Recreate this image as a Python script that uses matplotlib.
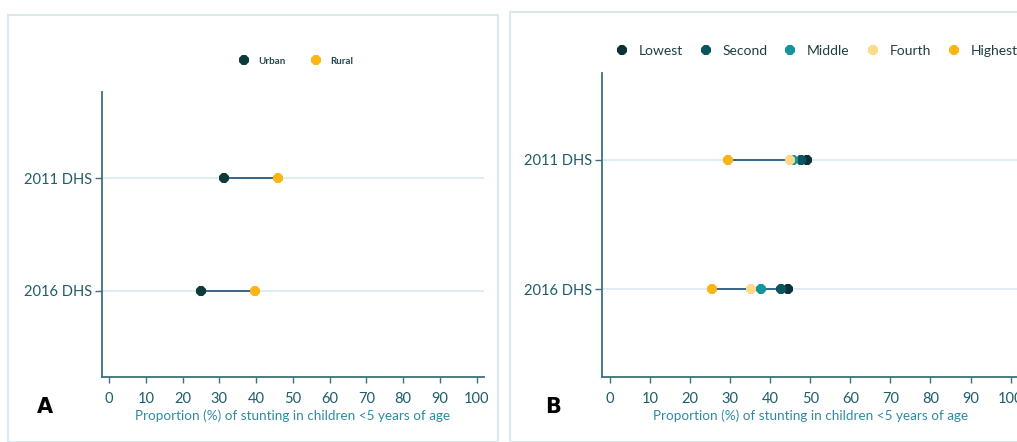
import matplotlib
matplotlib.use("Agg")
import matplotlib.pyplot as plt
from matplotlib.patches import Rectangle

#---data---#
surveys = ["2011 DHS", "2016 DHS"]

# panel A: residence
urban = [31.4, 25.1]
rural = [45.9, 39.7]

# panel B: wealth quintile
lowest = [49.2, 44.4]
second = [47.8, 42.7]
middle = [45.6, 37.8]
fourth = [44.9, 35.3]
highest = [29.5, 25.4]

xticks = list(range(0, 101, 10))
xlabel = "Proportion (%) of stunting in children <5 years of age"

#---style---#
plt.rcParams['font.family'] = ['Lato', 'DejaVu Sans']
c_spine = "#3f6f7a"
c_tick = "#1d5c68"
c_xlab = "#2f8aa3"
c_grid = "#d9eaf0"
c_link = "#2a5b80"
c_box = "#dbe9ee"

W, H = 1017, 442
fig = plt.figure(figsize=(W / 100, H / 100), dpi=100)

# panel frames
fig.patches.append(Rectangle((8 / W, 0), 490 / W, 1 - 15 / H, transform=fig.transFigure,
                             fill=False, edgecolor=c_box, linewidth=1.5))
fig.patches.append(Rectangle((510 / W, 0), 520 / W, 1 - 12 / H, transform=fig.transFigure,
                             fill=False, edgecolor=c_box, linewidth=1.5))


def style_axes(ax, ylim):
    ax.set_xlim(-2, 102)
    ax.set_ylim(*ylim)
    ax.set_yticks(range(len(surveys)))
    ax.set_yticklabels(surveys)
    ax.set_xticks(xticks)
    ax.spines['top'].set_visible(False)
    ax.spines['right'].set_visible(False)
    for s in ['left', 'bottom']:
        ax.spines[s].set_color(c_spine)
        ax.spines[s].set_linewidth(1.3)
    ax.tick_params(axis='y', length=5, width=1, color=c_spine, labelcolor=c_tick, labelsize=10.5, pad=2)
    ax.tick_params(axis='x', length=4, width=1, color=c_spine, labelcolor=c_tick, labelsize=10.5, pad=7)
    ax.set_xlabel(xlabel, color=c_xlab, fontsize=9.7, labelpad=2)
    for i in range(len(surveys)):
        ax.axhline(i, color=c_grid, linewidth=1.2, zorder=0)


def dumbbell(ax, series):
    for i in range(len(surveys)):
        vals = [s[1][i] for s in series]
        ax.plot([min(vals), max(vals)], [i, i], color=c_link, linewidth=1.3, zorder=1)
    for name, vals, col in series:
        ax.plot(vals, range(len(surveys)), linestyle='none', marker='8', markersize=7.5,
                color=col, markeredgewidth=0, zorder=3, label=name)


# panel A
axA = fig.add_axes([101.7 / W, 1 - 377 / H, 382.3 / W, 285 / H])
style_axes(axA, (1.77, -0.77))
dumbbell(axA, [("Urban", urban, "#0d3a3d"), ("Rural", rural, "#fdb515")])
axA.legend(loc='center', bbox_to_anchor=(296 / W, 1 - 61 / H), bbox_transform=fig.transFigure,
           ncol=2, frameon=False, handletextpad=1.0, columnspacing=2.6,
           handlelength=1.0, prop={'size': 7, 'weight': 'bold'}, labelcolor="#23474d")
fig.text(45 / W, 1 - 407 / H, "A", fontsize=15, fontweight='bold', ha='center', va='center',
         family='DejaVu Sans')

# panel B
axB = fig.add_axes([601.7 / W, 1 - 377 / H, 417 / W, 304 / H])
style_axes(axB, (1.68, -0.67))
dumbbell(axB, [("Lowest", lowest, "#0b3236"), ("Second", second, "#0a5560"),
               ("Middle", middle, "#13959b"), ("Fourth", fourth, "#fdd98a"),
               ("Highest", highest, "#fdb515")])
axB.legend(loc='center left', bbox_to_anchor=(615 / W, 1 - 51 / H), bbox_transform=fig.transFigure,
           ncol=5, frameon=False, fontsize=10, handletextpad=0.7, columnspacing=1.15,
           handlelength=1.0, labelcolor="#1f3d42", borderaxespad=0, borderpad=0)
fig.text(553 / W, 1 - 407 / H, "B", fontsize=15, fontweight='bold', ha='center', va='center',
         family='DejaVu Sans')

fig.savefig("out.png", dpi=100)
